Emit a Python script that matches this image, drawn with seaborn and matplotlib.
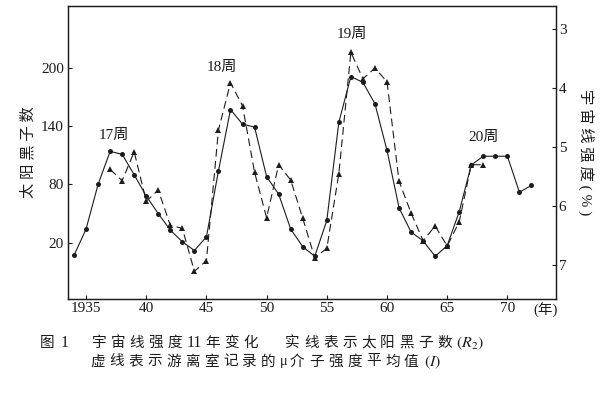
import numpy as np
import matplotlib
matplotlib.use('Agg')
import matplotlib.pyplot as plt
import matplotlib.transforms as mtransforms
import seaborn as sns

# Sunspot numbers (solid line, left axis)
sun_years = [1934, 1935, 1936, 1937, 1938, 1939, 1940, 1941, 1942, 1943, 1944,
             1945, 1946, 1947, 1948, 1949, 1950, 1951, 1952, 1953, 1954, 1955,
             1956, 1957, 1958, 1959, 1960, 1961, 1962, 1963, 1964, 1965, 1966,
             1967, 1968, 1969, 1970, 1971, 1972]
sunspots = [7, 34, 80, 114, 111, 90, 68, 50, 33, 21, 12,
            26, 94, 157, 142, 139, 88, 70, 34, 16, 6, 43,
            144, 191, 185, 163, 115, 56, 31, 22, 6, 17, 52,
            100, 109, 109, 109, 72, 79]

# Cosmic ray intensity (dashed line, right axis, %)
cr_years = [1937, 1938, 1939, 1940, 1941, 1942, 1943, 1944, 1945, 1946, 1947,
            1948, 1949, 1950, 1951, 1952, 1953, 1954, 1955, 1956, 1957, 1958,
            1959, 1960, 1961, 1962, 1963, 1964, 1965, 1966, 1967, 1968]
cr_intensity = [5.38, 5.57, 5.08, 5.92, 5.73, 6.33, 6.38, 7.11, 6.93, 4.71, 3.91,
                4.30, 5.43, 6.20, 5.30, 5.56, 6.21, 6.88, 6.72, 5.45, 3.39, 3.84,
                3.66, 3.89, 5.58, 6.12, 6.59, 6.34, 6.68, 6.27, 5.30, 5.30]

cycle_labels = ['17周', '18周', '19周', '20周']
cycle_x = [1937.3, 1946.3, 1957.1, 1968.0]
cycle_y = [131, 201, 234, 128]

x_ticks = [1935, 1940, 1945, 1950, 1955, 1960, 1965, 1970]
x_ticklabels = ['1935', '40', '45', '50', '55', '60', '65', '70']
left_ticks = [20, 80, 140, 200]
right_ticks = [3, 4, 5, 6, 7]

ink = '#1c1c1c'

sns.set_style('ticks', {'xtick.direction': 'in', 'ytick.direction': 'in'})
plt.rcParams['font.family'] = ['Liberation Serif', 'Noto Sans CJK SC', 'DejaVu Sans']
plt.rcParams['mathtext.fontset'] = 'stix'

fig = plt.figure(figsize=(6, 3.94), dpi=100)
ax = fig.add_axes([0.1133, 0.2411, 0.8134, 0.7444])
ax2 = ax.twinx()

sns.lineplot(x=sun_years, y=sunspots, ax=ax, color=ink, lw=0.8,
             marker='o', markersize=3.6, markeredgewidth=0, markerfacecolor=ink)
sns.lineplot(x=cr_years, y=cr_intensity, ax=ax2, color=ink, lw=0.8,
             marker='^', markersize=4, markeredgewidth=0, markerfacecolor=ink,
             dashes=False, linestyle=(0, (7, 4)))

ax.set_xlim(1933.5, 1974.04)
ax.set_ylim(-37.9, 263.9)
ax2.set_ylim(7.58, 2.6)

ax.set_xticks(x_ticks)
ax.set_xticklabels(x_ticklabels)
ax.set_yticks(left_ticks)
ax2.set_yticks(right_ticks)

for a in (ax, ax2):
    for s in a.spines.values():
        s.set_color(ink)
        s.set_linewidth(0.9)
    a.tick_params(colors=ink, labelsize=11, length=3, width=0.8)
ax.tick_params(axis='x', pad=2)
ax.tick_params(axis='y', pad=3)
ax2.tick_params(axis='y', pad=2)

trans = mtransforms.blended_transform_factory(ax.transData, ax.transAxes)
ax.text(1973.2, -0.012, '(年)', transform=trans, ha='center', va='top',
        fontsize=10.5, color=ink)

for lab, cx, cy in zip(cycle_labels, cycle_x, cycle_y):
    ax.text(cx, cy, lab, ha='center', va='center', fontsize=11, color=ink)

ax.set_ylabel('太 阳 黑 子 数', fontsize=11, color=ink, labelpad=4)
ax2.set_ylabel('宇 宙 线 强 度 ( % )', fontsize=11, color=ink,
               rotation=270, labelpad=20)
ax.set_xlabel('')


# caption is letter-spaced in the original, so lay out token by token (pixel coords)
def spaced(x0, ypix, tokens, pitch=19, size=10.5):
    x = x0
    for tok in tokens:
        fs = size + 1 if tok.isdigit() else size
        fig.text(x / 600, 1 - ypix / 394, tok, fontsize=fs, color=ink,
                 ha='left', va='center')
        x += 10 if tok == 'μ' else pitch


spaced(40, 343, ['图', '1'], pitch=21)
spaced(91.7, 343, list('宇宙线强度') + ['11'] + list('年变化'))
spaced(285, 343, list('实线表示太阳黑子数'))
fig.text(456 / 600, 1 - 343 / 394, r'$(R_2)$', fontsize=11.5, color=ink,
         ha='left', va='center')
spaced(90, 362, list('虚线表示游离室记录的μ介子强度平均值'))
fig.text(424 / 600, 1 - 362 / 394, r'$(I)$', fontsize=11.5, color=ink,
         ha='left', va='center')

fig.savefig('out.png', dpi=100)
